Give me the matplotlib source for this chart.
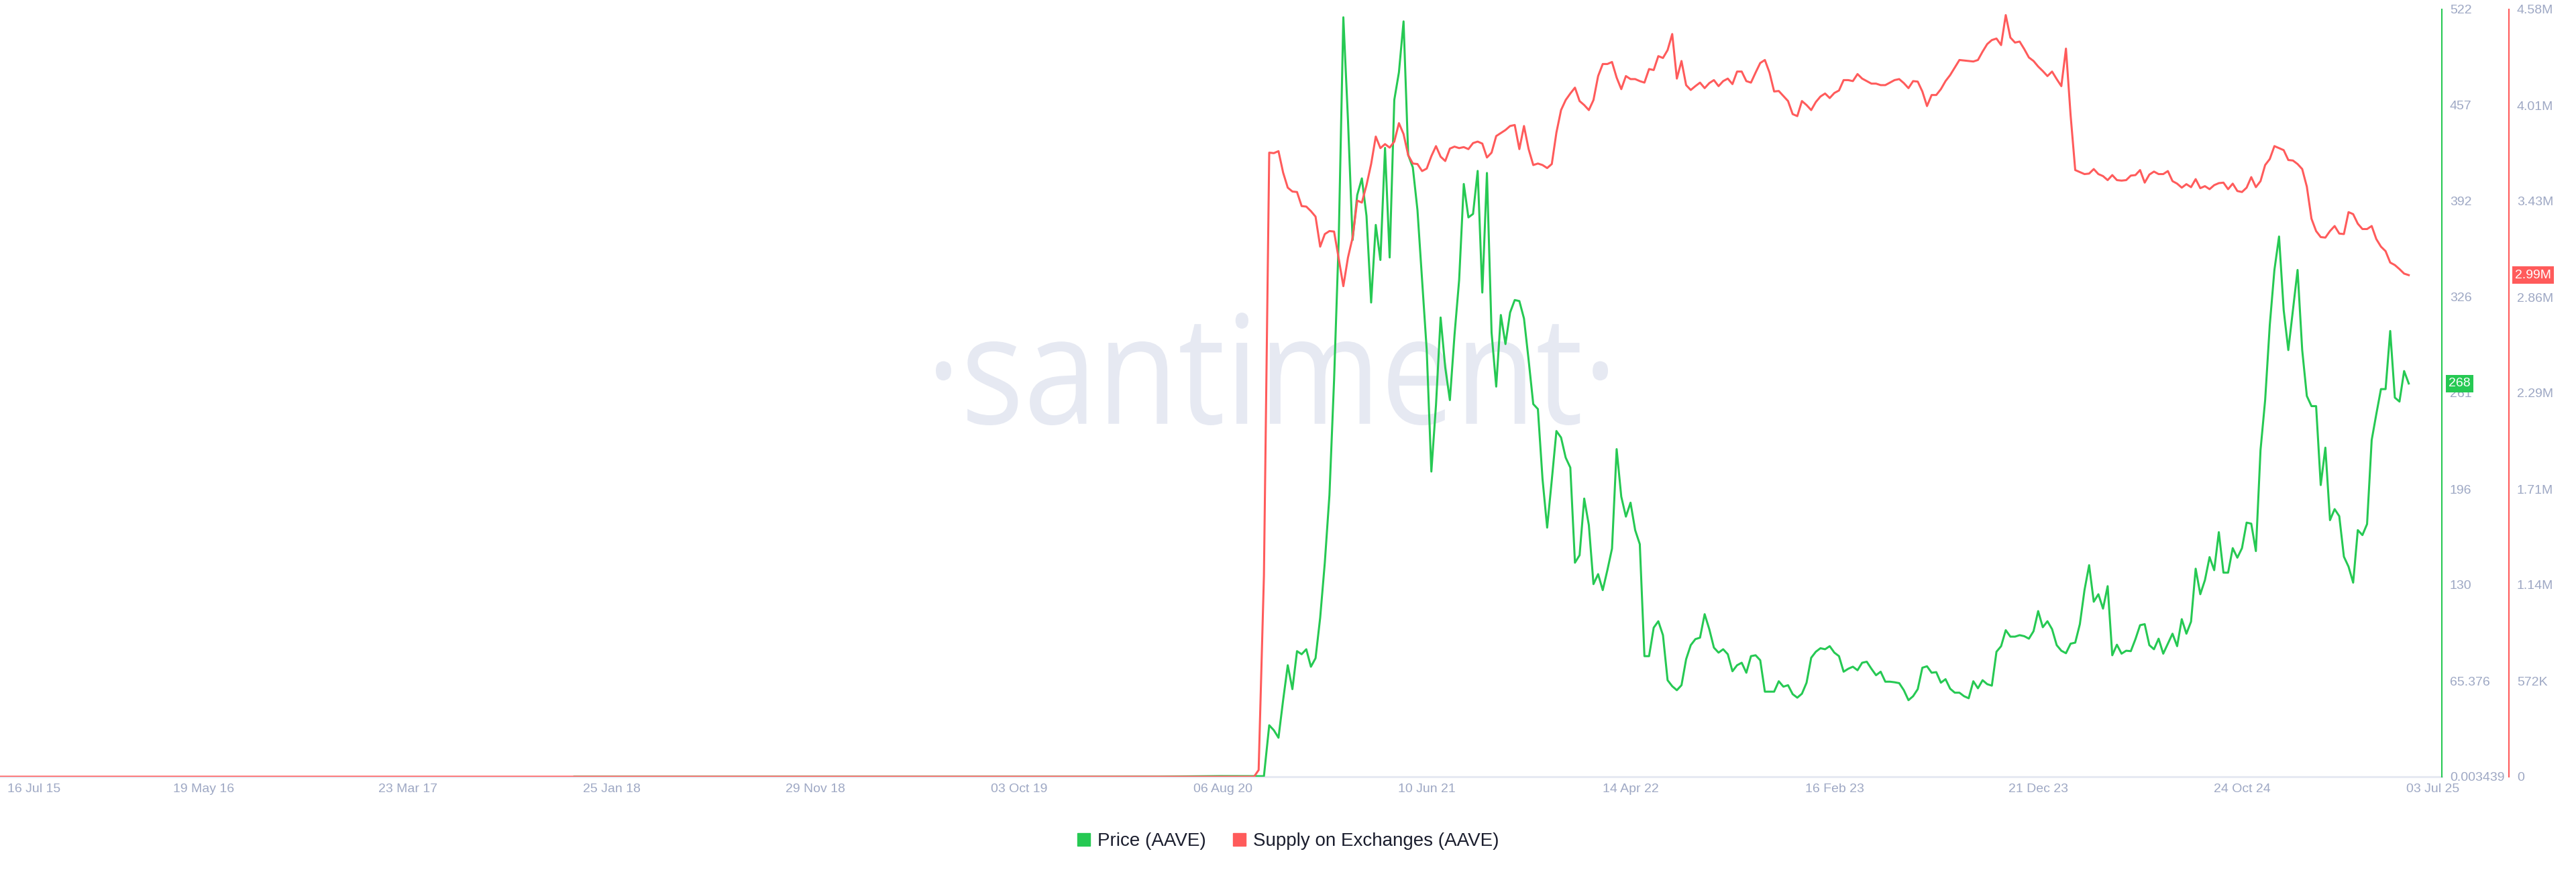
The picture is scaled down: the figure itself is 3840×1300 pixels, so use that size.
import matplotlib
matplotlib.use('Agg')
import matplotlib.pyplot as plt
from matplotlib.patches import Patch, PathPatch
from matplotlib.textpath import TextPath
from matplotlib.font_manager import FontProperties
from matplotlib.transforms import blended_transform_factory, ScaledTranslation, Affine2D
import pandas as pd

plt.rcParams['font.family'] = ['Liberation Sans', 'DejaVu Sans']

GREEN = '#26c953'
RED = '#ff5b5b'
TICK = '#9ea8c4'

# ---------------- data ----------------
weekly_end = '2025-07-03'

price_weekly = [
    35.1, 31.7, 26.6, 52.2, 76.0, 59.7, 85.6, 83.5, 86.9, 75.0,
    80.8, 108.4, 145.9, 192.0, 270.4, 365.8, 517.6, 447.7, 365.8, 396.5,
    407.8, 382.2, 323.2, 376.1, 352.2, 428.6, 353.9, 461.3, 480.1, 514.8,
    423.8, 415.3, 386.3, 338.6, 290.8, 208.0, 253.3, 313.0, 278.9, 256.7,
    301.1, 338.6, 404.0, 381.2, 383.6, 412.9, 330.0, 411.5, 302.8, 265.9,
    314.7, 294.9, 316.4, 324.9, 324.2, 312.3, 284.0, 254.0, 250.6, 202.9,
    169.8, 202.2, 235.6, 231.2, 217.5, 210.7, 145.9, 151.0, 189.6, 171.5,
    131.3, 138.1, 127.2, 140.8, 155.5, 223.3, 190.9, 177.3, 186.8, 168.1,
    158.5, 82.2, 82.2, 101.6, 106.0, 96.5, 65.8, 61.7, 59.0, 62.4,
    80.1, 89.7, 93.8, 94.8, 110.8, 100.6, 88.0, 84.6, 86.9, 83.5,
    71.9, 76.0, 77.7,
    70.9, 82.2, 82.8, 79.4, 58.0, 58.0, 58.0, 65.1, 61.4, 62.4,
    56.3, 53.9, 56.6, 64.1, 81.1, 85.2, 87.6, 86.9, 89.0, 84.6,
    82.2, 71.6, 73.6, 75.0, 72.6, 77.7, 78.4, 73.6, 69.2, 71.6,
    64.8, 64.8, 64.4, 63.8, 59.0, 52.2, 54.9, 59.7, 74.3, 75.3,
    70.9, 71.3, 64.1, 66.5, 60.0, 57.3, 57.3, 54.9, 53.5, 65.1,
    60.3, 65.8, 63.1, 62.1, 85.2, 89.0, 99.9, 95.5, 95.5, 96.5,
    95.8, 94.1, 99.2, 112.9, 101.9, 106.0, 100.6, 89.7, 85.9, 84.2,
    90.7, 91.4, 104.0, 127.2, 144.2, 119.3, 124.4, 114.6, 129.9, 82.8,
    90.0, 83.9, 85.9, 85.6, 93.8, 103.3, 104.0, 89.7, 86.9, 94.1,
    83.9, 90.7, 97.5, 89.0, 107.4, 97.5, 105.7, 141.8, 124.4, 134.0,
    149.7, 140.8, 166.7, 139.1, 139.1, 155.8, 149.3, 155.8, 173.2, 172.5,
    153.8, 222.6, 256.7, 307.9, 345.4, 368.2, 318.1, 290.8, 318.1, 345.4,
    290.8, 259.5, 252.6, 252.6, 198.8, 224.3, 174.9, 182.4, 177.6, 150.0,
    143.2, 132.3, 168.1, 164.7, 172.2, 229.5, 247.2, 264.2, 264.2, 303.8,
    258.4, 255.7, 276.5, 268.0,
]

supply_weekly_m = [
    3.725, 3.722, 3.734, 3.606, 3.516, 3.493, 3.490, 3.406, 3.403, 3.376,
    3.343, 3.164, 3.239, 3.257, 3.254, 3.093, 2.928, 3.099, 3.218, 3.439,
    3.427, 3.531, 3.657, 3.821, 3.752, 3.776, 3.755, 3.791, 3.901, 3.836,
    3.710, 3.660, 3.657, 3.615, 3.630, 3.704, 3.764, 3.701, 3.675, 3.749,
    3.761, 3.752, 3.758, 3.746, 3.782, 3.791, 3.779, 3.696, 3.725, 3.824,
    3.842, 3.860, 3.884, 3.890, 3.746, 3.884, 3.746, 3.651, 3.660, 3.651,
    3.633, 3.657, 3.845, 3.979, 4.039, 4.078, 4.113, 4.033, 4.009, 3.979,
    4.039, 4.182, 4.254, 4.254, 4.266, 4.173, 4.104, 4.182, 4.164, 4.164,
    4.152, 4.143, 4.224, 4.218, 4.301, 4.290, 4.337, 4.433, 4.167, 4.272,
    4.128, 4.099, 4.122, 4.143, 4.110, 4.140, 4.158, 4.122, 4.152, 4.167,
    4.134, 4.209, 4.209,
    4.152, 4.143, 4.203, 4.260, 4.278, 4.203, 4.090, 4.093, 4.063, 4.033,
    3.955, 3.943, 4.033, 4.009, 3.979, 4.027, 4.060, 4.078, 4.051, 4.081,
    4.096, 4.158, 4.158, 4.152, 4.194, 4.167, 4.152, 4.137, 4.137, 4.128,
    4.128, 4.143, 4.158, 4.164, 4.140, 4.110, 4.152, 4.149, 4.090, 4.003,
    4.069, 4.069, 4.104, 4.152, 4.188, 4.233, 4.278, 4.275, 4.272, 4.269,
    4.278, 4.328, 4.373, 4.397, 4.406, 4.367, 4.546, 4.412, 4.382, 4.388,
    4.343, 4.293, 4.272, 4.239, 4.212, 4.182, 4.209, 4.164, 4.122, 4.346,
    3.949, 3.621, 3.609, 3.597, 3.600, 3.627, 3.597, 3.585, 3.561, 3.591,
    3.561, 3.558, 3.561, 3.588, 3.591, 3.621, 3.546, 3.594, 3.612, 3.597,
    3.597, 3.615, 3.555, 3.540, 3.516, 3.537, 3.519, 3.567, 3.513, 3.525,
    3.507, 3.531, 3.543, 3.546, 3.507, 3.540, 3.496, 3.490, 3.516, 3.579,
    3.519, 3.555, 3.651, 3.687, 3.764, 3.752, 3.740, 3.681, 3.678, 3.657,
    3.627, 3.522, 3.331, 3.257, 3.221, 3.218, 3.257, 3.287, 3.242, 3.239,
    3.370, 3.358, 3.301, 3.269, 3.269, 3.287, 3.209, 3.164, 3.137, 3.069,
    3.054, 3.030, 3.003, 2.994,
]

# before the AAVE launch (LEND era): price tiny, exchange supply zero
price_pre_dates = ['2017-11-30', '2018-01-10', '2018-02-15', '2018-06-01',
                   '2019-01-01', '2019-06-01', '2020-01-01', '2020-05-01',
                   '2020-08-01', '2020-10-07']
price_pre = [0.01, 0.022, 0.012, 0.008, 0.003439, 0.006, 0.015, 0.07, 0.45, 0.4]

supply_pre_dates = ['2015-07-16', '2020-09-22', '2020-09-29', '2020-10-07']
supply_pre_m = [0.0, 0.0, 0.04, 1.2]

x_tick_dates = ['2015-07-16', '2016-05-19', '2017-03-23', '2018-01-25',
                '2018-11-29', '2019-10-03', '2020-08-06', '2021-06-10',
                '2022-04-14', '2023-02-16', '2023-12-21', '2024-10-24',
                '2025-07-03']
x_tick_labels = ['16 Jul 15', '19 May 16', '23 Mar 17', '25 Jan 18',
                 '29 Nov 18', '03 Oct 19', '06 Aug 20', '10 Jun 21',
                 '14 Apr 22', '16 Feb 23', '21 Dec 23', '24 Oct 24',
                 '03 Jul 25']

price_tick_values = [0.003439, 65.376, 130.749, 196.121, 261.494,
                     326.867, 392.239, 457.612, 522.984]
price_tick_labels = ['0.003439', '65.376', '130', '196', '261',
                     '326', '392', '457', '522']
supply_tick_values = [0, 0.5725, 1.145, 1.7175, 2.29, 2.8625, 3.435, 4.0075, 4.58]
supply_tick_labels = ['0', '572K', '1.14M', '1.71M', '2.29M',
                      '2.86M', '3.43M', '4.01M', '4.58M']

x_start = '2015-07-16'
x_end = '2025-08-22'

# ---------------- assemble series ----------------
weekly_dates = pd.date_range(end=weekly_end, periods=len(price_weekly), freq='7D')
price_dates_all = list(pd.to_datetime(price_pre_dates)) + list(weekly_dates)
price_all = price_pre + price_weekly
supply_dates_all = list(pd.to_datetime(supply_pre_dates)) + list(weekly_dates)
supply_all = supply_pre_m + supply_weekly_m

# ---------------- figure ----------------
W, H = 3840, 1300
fig = plt.figure(figsize=(W / 100, H / 100), dpi=100)
fig.patch.set_facecolor('white')
plot_left, plot_right, plot_top, plot_bottom = 0, 3640, 14, 1158
ax_p = fig.add_axes([plot_left / W, (H - plot_bottom) / H,
                     (plot_right - plot_left) / W, (plot_bottom - plot_top) / H])
ax_s = ax_p.twinx()
ax_p.yaxis.tick_right()
ax_p.yaxis.set_label_position('right')

# watermark (drawn in pixel space)
fp = FontProperties(family='Open Sans')
wm_path = TextPath((0, 0), '·santiment·', size=100, prop=fp)
ext = wm_path.get_extents()
wm_left, wm_right, wm_top, wm_bottom = 1395, 2397, 466, 634
wm_trans = (Affine2D().translate(-ext.x0, -ext.y0)
            .scale((wm_right - wm_left) / ext.width, (wm_bottom - wm_top) / ext.height)
            .translate(wm_left, H - wm_bottom))
ax_p.add_patch(PathPatch(wm_path, transform=wm_trans, fc='#e6e9f2', ec='none',
                         lw=0, zorder=0))

ax_p.plot(price_dates_all, price_all, color=GREEN, lw=2.2,
          solid_joinstyle='round', zorder=3)
ax_s.plot(supply_dates_all, supply_all, color=RED, lw=2.2,
          solid_joinstyle='round', zorder=3)

ax_p.set_xlim(pd.Timestamp(x_start), pd.Timestamp(x_end))
ax_s.set_ylim(supply_tick_values[0], supply_tick_values[-1])
ax_p.set_ylim(price_tick_values[0], price_tick_values[-1])

# spines
for a in (ax_s, ax_p):
    a.spines['top'].set_visible(False)
    a.spines['left'].set_visible(False)
ax_s.spines['bottom'].set_visible(False)
ax_p.spines['bottom'].set_color('#e6e9f2')
ax_p.spines['bottom'].set_linewidth(2.2)
ax_p.spines['bottom'].set_zorder(1)
ax_p.spines['right'].set_color(GREEN)
ax_p.spines['right'].set_linewidth(1.5)
ax_s.spines['right'].set_color(RED)
ax_s.spines['right'].set_linewidth(1.5)
ax_s.spines['right'].set_position(('outward', 72))

# y ticks
ax_p.set_yticks(price_tick_values)
ax_p.set_yticklabels(price_tick_labels)
ax_s.set_yticks(supply_tick_values)
ax_s.set_yticklabels(supply_tick_labels)
for a in (ax_s, ax_p):
    a.tick_params(axis='y', length=0, pad=8.5, labelsize=14, colors=TICK)

# x ticks
ax_p.set_xticks(pd.to_datetime(x_tick_dates))
ax_p.set_xticklabels(x_tick_labels)
ax_p.tick_params(axis='x', length=0, pad=7, labelsize=14, colors=TICK)
xl = ax_p.get_xticklabels()
xl[0].set_ha('left')
xl[0].set_transform(xl[0].get_transform() + ScaledTranslation(0.11, 0, fig.dpi_scale_trans))
xl[-1].set_transform(xl[-1].get_transform() + ScaledTranslation(0.36, 0, fig.dpi_scale_trans))

# last value badges
tp = blended_transform_factory(ax_p.transAxes, ax_p.transData)
ax_p.text(1.0028, price_weekly[-1], f'{price_weekly[-1]:.0f}', transform=tp,
          ha='left', va='center', color='white', fontsize=14, zorder=6,
          clip_on=False,
          bbox=dict(boxstyle='square,pad=0.22', fc=GREEN, ec='none'))
ts = blended_transform_factory(ax_s.transAxes, ax_s.transData)
ax_s.text(1.0300, supply_weekly_m[-1], f'{supply_weekly_m[-1]:.2f}M', transform=ts,
          ha='left', va='center', color='white', fontsize=14, zorder=6,
          clip_on=False,
          bbox=dict(boxstyle='square,pad=0.22', fc=RED, ec='none'))

# legend
fig.legend(handles=[Patch(color=GREEN, label='Price (AAVE)'),
                    Patch(color=RED, label='Supply on Exchanges (AAVE)')],
           loc='center', bbox_to_anchor=(0.5, 0.0354), ncol=2, frameon=False,
           fontsize=20, handlelength=0.68, handleheight=0.68,
           handletextpad=0.4, columnspacing=1.45, labelcolor='#1b1e2e')

fig.savefig('out.png', dpi=100)
